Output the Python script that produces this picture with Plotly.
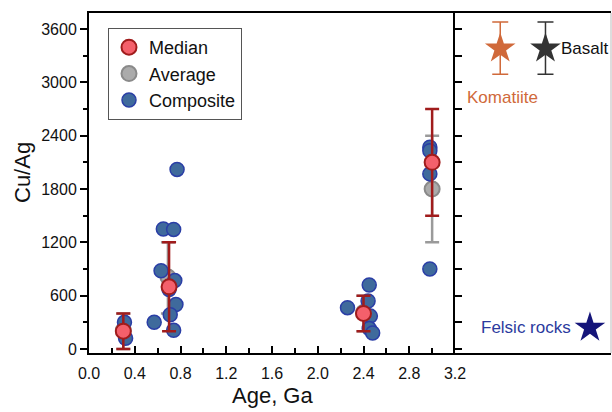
import plotly.graph_objects as go

# ---------------- data ----------------
comp_age = [0.31, 0.32,
            0.77, 0.65, 0.74, 0.63, 0.75, 0.70, 0.76, 0.71, 0.57, 0.74,
            2.45, 2.26, 2.44, 2.46, 2.45, 2.48,
            2.98, 2.98, 2.98, 2.98]
comp_cuag = [300, 120,
             2020, 1350, 1345, 880, 770, 670, 500, 385, 300, 210,
             720, 465, 540, 370, 230, 180,
             2270, 2230, 1970, 900]

med_age = [0.30, 0.70, 2.40, 3.00]
med_cuag = [200, 700, 400, 2100]
med_low = [0, 200, 200, 1500]
med_high = [400, 1200, 600, 2700]

avg_age = [0.30, 0.69, 2.40, 3.00]
avg_cuag = [210, 810, 410, 1800]
avg_low = [0, 400, 200, 1200]
avg_high = [400, 1200, 600, 2400]

ref_names = ["Komatiite", "Basalt", "Felsic rocks"]
ref_pos = [0.29, 0.58, 0.865]
ref_cuag = [3380, 3380, 240]
ref_low = [3090, 3090, None]
ref_high = [3680, 3680, None]
ref_colors = ["#d0693a", "#333333", "#15157a"]

xticks = [0.0, 0.4, 0.8, 1.2, 1.6, 2.0, 2.4, 2.8, 3.2]
yticks = [0, 600, 1200, 1800, 2400, 3000, 3600]

FONT = "Liberation Sans, Arial, sans-serif"
RED = "#a01c1c"
GRAY = "#9a9a9a"

L, R, T, B = 89, 1, 13, 59
W, H = 612, 412
pw, ph = W - L - R, H - T - B
split = (455 - L) / pw


def px_x(x):
    return (x - L) / pw


def px_y(y):
    return (H - B - y) / ph


fig = go.Figure()

# average (gray)
fig.add_trace(go.Scatter(
    x=avg_age, y=avg_cuag, mode="markers", name="Average", legendrank=2,
    marker=dict(size=15, color="#ababab", line=dict(color="#8a8a8a", width=2)),
    error_y=dict(type="data", symmetric=False,
                 array=[h - v for h, v in zip(avg_high, avg_cuag)],
                 arrayminus=[v - l for l, v in zip(avg_low, avg_cuag)],
                 color=GRAY, thickness=2.5, width=7),
    xaxis="x", yaxis="y"))

# composite (blue)
fig.add_trace(go.Scatter(
    x=comp_age, y=comp_cuag, mode="markers", name="Composite", legendrank=3,
    marker=dict(size=14, color="#3f6a9c", line=dict(color="#2a3ea6", width=1.5)),
    xaxis="x", yaxis="y"))

# median (red)
fig.add_trace(go.Scatter(
    x=med_age, y=med_cuag, mode="markers", name="Median", legendrank=1,
    marker=dict(size=15, color="#f4606b", line=dict(color=RED, width=2)),
    error_y=dict(type="data", symmetric=False,
                 array=[h - v for h, v in zip(med_high, med_cuag)],
                 arrayminus=[v - l for l, v in zip(med_low, med_cuag)],
                 color=RED, thickness=2.5, width=7),
    xaxis="x", yaxis="y"))

# reference rocks (right panel)
for nm, px, val, lo, hi, col in zip(ref_names, ref_pos, ref_cuag, ref_low, ref_high, ref_colors):
    ey = None
    if lo is not None:
        ey = dict(type="data", symmetric=False, array=[hi - val], arrayminus=[val - lo],
                  color=col, thickness=1.5, width=8)
    fig.add_trace(go.Scatter(
        x=[px], y=[val], mode="markers", name=nm, showlegend=False,
        marker=dict(symbol="star", size=23, color=col, line=dict(width=0)),
        error_y=ey, xaxis="x2", yaxis="y2"))

fig.add_annotation(x=0.065, y=2835, xref="x2", yref="y2", text="Komatiite",
                   showarrow=False, xanchor="left", yanchor="middle",
                   font=dict(size=17, color="#d0693a", family=FONT))
fig.add_annotation(x=0.665, y=3380, xref="x2", yref="y2", text="Basalt",
                   showarrow=False, xanchor="left", yanchor="middle",
                   font=dict(size=17, color="#111111", family=FONT))
fig.add_annotation(x=0.755, y=240, xref="x2", yref="y2", text="Felsic rocks",
                   showarrow=False, xanchor="right", yanchor="middle",
                   font=dict(size=17, color="#2b3a9e", family=FONT))

# axis titles
fig.add_annotation(x=px_x(272), y=px_y(395), xref="paper", yref="paper", text="Age, Ga",
                   showarrow=False, xanchor="center", yanchor="middle",
                   font=dict(size=22, color="#111111", family=FONT))
fig.add_annotation(x=px_x(22), y=px_y(173), xref="paper", yref="paper", text="Cu/Ag",
                   textangle=-90, showarrow=False, xanchor="center", yanchor="middle",
                   font=dict(size=22, color="#111111", family=FONT))

fig.update_layout(
    width=W, height=H,
    margin=dict(l=L, r=R, t=T, b=B, autoexpand=False),
    paper_bgcolor="white", plot_bgcolor="white",
    font=dict(family=FONT, size=16, color="#111111"),
    showlegend=True,
    legend=dict(x=px_x(108), y=px_y(28), xanchor="left", yanchor="top",
                bgcolor="white", bordercolor="#555555", borderwidth=1,
                font=dict(size=18, family=FONT, color="#111111")),
    xaxis=dict(domain=[0, split], range=[0, 3.2], tickvals=xticks,
               ticktext=[f"{v:.1f}" for v in xticks],
               ticks="inside", ticklen=7, tickwidth=1.5, tickcolor="black",
               minor=dict(dtick=0.2, tick0=0, ticks="inside", ticklen=5, tickwidth=1.5, tickcolor="black"),
               showline=True, linewidth=2, linecolor="black", mirror=True,
               showgrid=False, zeroline=False, ticklabelstandoff=5,
               tickfont=dict(size=16), anchor="y", automargin=False),
    yaxis=dict(domain=[0, 1], range=[-45, 3780], tickvals=yticks,
               ticks="outside", ticklen=7, tickwidth=1.5, tickcolor="black",
               minor=dict(dtick=300, tick0=0, ticks="outside", ticklen=4, tickwidth=1.5, tickcolor="black"),
               showline=True, linewidth=2, linecolor="black", mirror=False,
               showgrid=False, zeroline=False, tickfont=dict(size=16), anchor="x",
               automargin=False),
    xaxis2=dict(domain=[split, 1], range=[0, 1], showticklabels=False, ticks="",
                showline=True, linewidth=2, linecolor="black", mirror=True,
                showgrid=False, zeroline=False, anchor="y2", automargin=False),
    yaxis2=dict(domain=[0, 1], range=[-45, 3780], dtick=300, tick0=0,
                ticks="inside", ticklen=7, tickwidth=1.5, tickcolor="black",
                showticklabels=False, showline=True, linewidth=2, linecolor="black",
                mirror=False, showgrid=False, zeroline=False, anchor="x2",
                automargin=False),
)

fig.add_shape(type="line", xref="paper", yref="paper", x0=1, x1=1, y0=0, y1=1,
              line=dict(color="#bbbbbb", width=1))

fig.write_html("out.html")
